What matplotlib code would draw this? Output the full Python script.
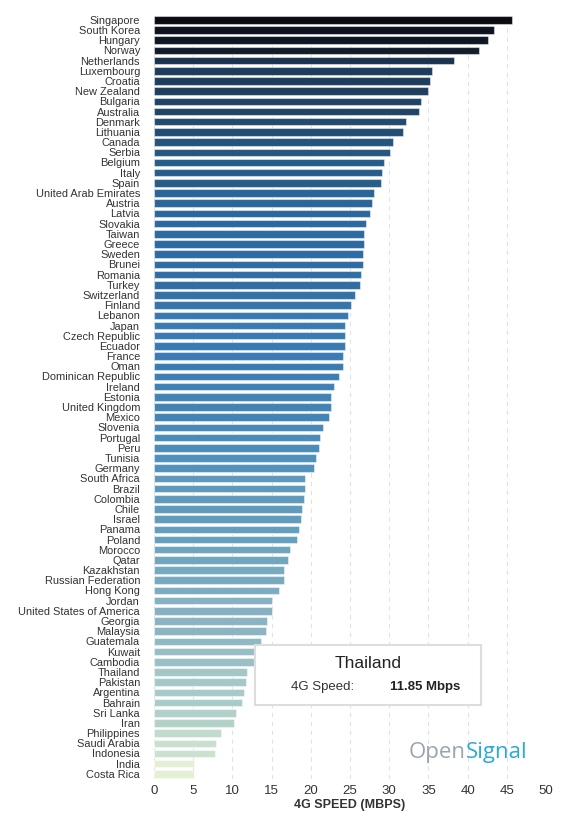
import matplotlib
matplotlib.use("Agg")
import matplotlib.pyplot as plt
from matplotlib.colors import LinearSegmentedColormap
from matplotlib.patches import Rectangle

countries = ["Singapore", "South Korea", "Hungary", "Norway", "Netherlands",
             "Luxembourg", "Croatia", "New Zealand", "Bulgaria", "Australia",
             "Denmark", "Lithuania", "Canada", "Serbia", "Belgium", "Italy",
             "Spain", "United Arab Emirates", "Austria", "Latvia", "Slovakia",
             "Taiwan", "Greece", "Sweden", "Brunei", "Romania", "Turkey",
             "Switzerland", "Finland", "Lebanon", "Japan", "Czech Republic",
             "Ecuador", "France", "Oman", "Dominican Republic", "Ireland",
             "Estonia", "United Kingdom", "Mexico", "Slovenia", "Portugal",
             "Peru", "Tunisia", "Germany", "South Africa", "Brazil", "Colombia",
             "Chile", "Israel", "Panama", "Poland", "Morocco", "Qatar",
             "Kazakhstan", "Russian Federation", "Hong Kong", "Jordan",
             "United States of America", "Georgia", "Malaysia", "Guatemala",
             "Kuwait", "Cambodia", "Thailand", "Pakistan", "Argentina",
             "Bahrain", "Sri Lanka", "Iran", "Philippines", "Saudi Arabia",
             "Indonesia", "India", "Costa Rica"]

speed = [45.6, 43.4, 42.6, 41.4, 38.3, 35.4, 35.2, 34.9, 34.1, 33.8,
         32.2, 31.7, 30.5, 30.1, 29.3, 29.1, 29.0, 28.0, 27.8, 27.5, 27.1,
         26.8, 26.8, 26.7, 26.6, 26.4, 26.3, 25.6, 25.1, 24.7, 24.4, 24.3,
         24.3, 24.1, 24.1, 23.6, 22.9, 22.6, 22.6, 22.3, 21.5, 21.2,
         21.0, 20.6, 20.4, 19.3, 19.3, 19.1,
         18.9, 18.8, 18.5, 18.3, 17.4, 17.1,
         16.6, 16.6, 15.9, 15.0,
         15.0, 14.4, 14.3, 13.6,
         12.9, 12.75, 11.85, 11.7, 11.5,
         11.2, 10.4, 10.25, 8.6, 7.87,
         7.74, 5.14, 5.14]

# colour ramp by value
ramp_vals = [5.1, 7.8, 10.3, 11.9, 13.6, 15.0, 17.0, 19.0, 21.0, 23.0,
             24.3, 26.5, 28.0, 30.0, 32.0, 35.0, 38.3, 41.4, 45.6]
ramp_cols = ["#e4f0d6", "#c9e0cf", "#b0d0c9", "#a3c6c6", "#90b8c3",
             "#86b1c2", "#72a6be", "#5f9bbc", "#4b8cb9", "#3f80b5",
             "#3a7ab2", "#2e6ca3", "#2a6598", "#27577f", "#244c72",
             "#1e3f60", "#1a3350", "#121c2c", "#0b0b12"]

tooltip_country = "Thailand"
tooltip_label = "4G Speed:"
tooltip_value = "11.85 Mbps"

lo, hi = ramp_vals[0], ramp_vals[-1]
cmap = LinearSegmentedColormap.from_list(
    "os", [((v - lo) / (hi - lo), c) for v, c in zip(ramp_vals, ramp_cols)])

fig = plt.figure(figsize=(5.8, 8.23), dpi=100)
ax = fig.add_axes([0.2655, 0.0535, 0.6759, 0.9286])

cols = [cmap(min(max((v - lo) / (hi - lo), 0), 1)) for v in speed]
ax.barh(range(len(countries)), speed, height=0.74, color=cols,
        edgecolor=(1, 1, 1, 0.45), linewidth=0.8, zorder=2)

ax.set_ylim(len(countries) - 0.5, -0.5)
ax.set_xlim(0, 50)
ax.set_xticks(range(0, 51, 5))
ax.set_yticks(range(len(countries)))
ax.set_yticklabels(countries, family="Liberation Sans", fontsize=7.9,
                   color="#333333")
ax.tick_params(axis="y", length=0, pad=10)
ax.tick_params(axis="x", length=0, pad=4, labelsize=9.5, labelcolor="#333333")
for lab in ax.get_xticklabels():
    lab.set_family("Liberation Sans")
for s in ax.spines.values():
    s.set_visible(False)
ax.grid(axis="x", color="#e2e2e2", linestyle=(0, (4, 4)), linewidth=0.8,
        zorder=0)
ax.set_xlabel("4G SPEED (MBPS)", family="Liberation Sans", fontsize=9,
              fontweight="bold", color="#333333", labelpad=2)

# tooltip box
fig.patches.append(Rectangle((0.4402, 0.1434), 0.3897, 0.0733,
                             transform=fig.transFigure, facecolor="white",
                             edgecolor="#dddddd", linewidth=1.5, zorder=5))
fig.text(0.635, 0.1932, tooltip_country, ha="center", va="center",
         family="Liberation Sans", fontsize=12.5, color="#222222", zorder=6)
fig.text(0.5012, 0.1656, tooltip_label, ha="left", va="center",
         family="Liberation Sans", fontsize=9.5, color="#333333", zorder=6)
fig.text(0.6724, 0.1656, tooltip_value, ha="left", va="center",
         family="Liberation Sans", fontsize=9.5, fontweight="bold",
         color="#222222", zorder=6)

# logo
t_open = fig.text(0.705, 0.0862, "Open", ha="left", va="center",
                  family="Open Sans", fontsize=16, color="#9aa5ab")
ax.annotate("Signal", xy=(1, 0), xycoords=t_open, ha="left", va="bottom",
            family="Open Sans", fontsize=16, color="#29a9e0",
            annotation_clip=False)

fig.savefig("out.png", dpi=100, facecolor="white")
